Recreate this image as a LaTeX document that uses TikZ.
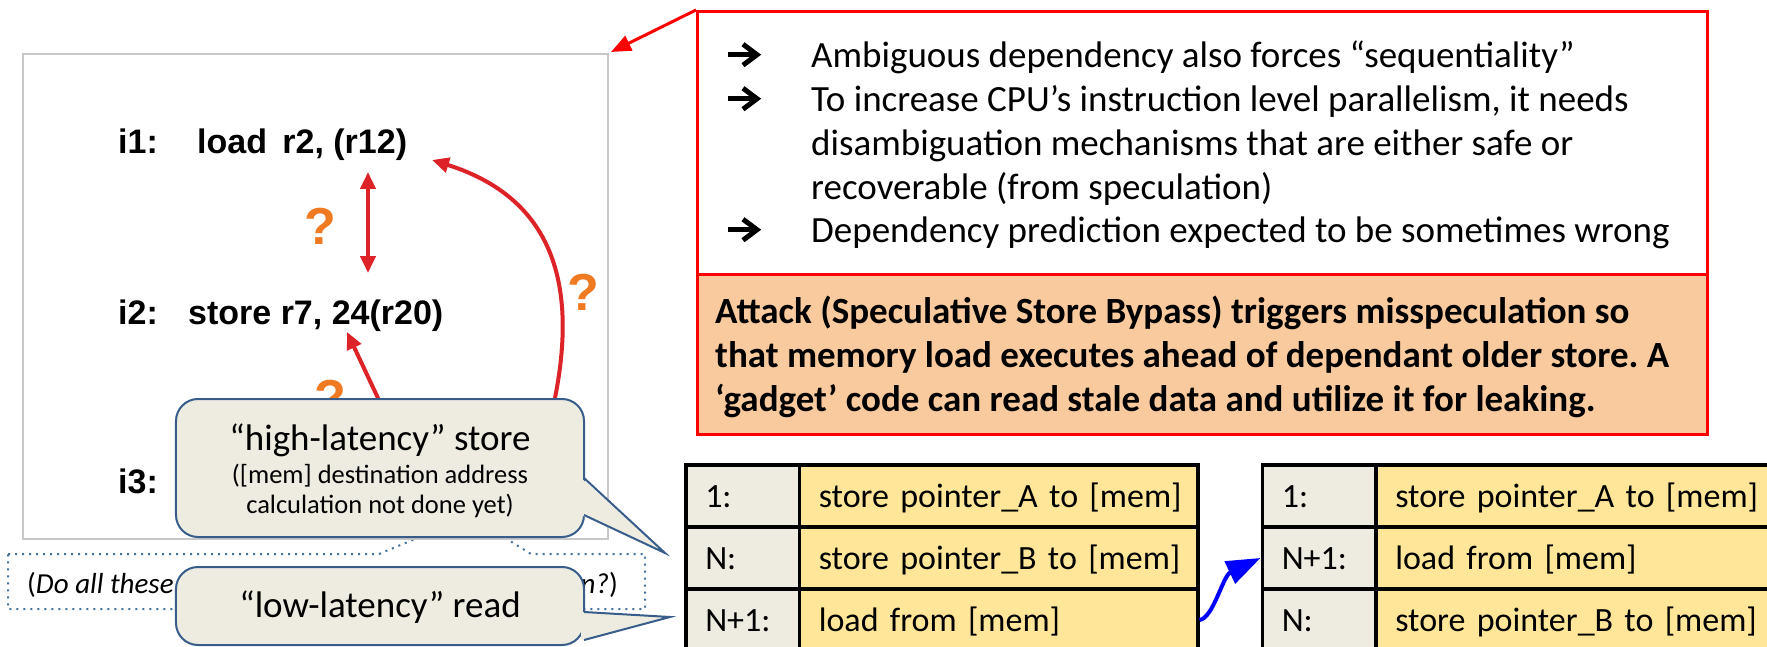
\documentclass[tikz,border=0pt]{standalone}
\usepackage{fontspec}
\setmainfont{Carlito}
\newfontfamily\arialfont{Liberation Sans}
\usetikzlibrary{arrows.meta}
\frenchspacing

\newcommand{\fsz}[2]{\fontsize{#1bp}{#2bp}\selectfont}

\definecolor{slidered}{HTML}{FF0000}
\definecolor{arrowred}{HTML}{DD2327}
\definecolor{qorange}{HTML}{F07A22}
\definecolor{attackfill}{HTML}{F8CA9E}
\definecolor{calloutfill}{HTML}{EEECE1}
\definecolor{calloutline}{HTML}{385D8A}
\definecolor{dotblue}{HTML}{41719C}
\definecolor{cellgray}{HTML}{EEECE1}
\definecolor{cellgold}{HTML}{FFE699}
\definecolor{panelline}{HTML}{C8C8C8}

\tikzset{
  codetext/.style={font=\arialfont\bfseries\fsz{34}{40}, inner sep=0pt, anchor=base west},
  qmark/.style={font=\arialfont\bfseries\fsz{52}{60}, text=qorange, inner sep=0pt, anchor=base},
  depline/.style={draw=arrowred, line width=4bp},
  callout/.style={draw=calloutline, fill=calloutfill, line width=2bp, rounded corners=22bp},
  bodytext/.style={font=\fsz{37}{44}, inner sep=0pt, anchor=base west},
  attacktext/.style={font=\bfseries\fsz{37}{44}, inner sep=0pt, anchor=base west},
  bulletarrow/.pic={
    \draw[line width=4.5bp] (0,0) -- (28,0);
    \draw[line width=5bp, line join=miter] (15,-10.5) -- (29,0) -- (15,10.5);
  },
  cell/.style={draw=black, line width=3.5bp, anchor=north west, minimum height=62.5bp,
    inner xsep=19.5bp, inner ysep=0pt, align=left, text height=25bp, text depth=2bp,
    font=\fsz{34}{40}},
  numcell/.style={cell, fill=cellgray, text width=74.5bp},
  instrcell/.style={cell, fill=cellgold, text width=359.5bp},
}

\begin{document}
\begin{tikzpicture}[x=1bp, y=-1bp]
\useasboundingbox (0,0) rectangle (1767,647);
\clip (0,0) rectangle (1767,647);
\fill[white] (0,0) rectangle (1767,647);

% dotted question callout (its pointer runs up behind the code panel)
\draw[dotblue, line width=2bp, dash pattern=on 2bp off 5bp]
  (8,554) -- (379,554) -- (470,516) -- (531,554) -- (645,554) -- (645,609) -- (8,609) -- cycle;
\node[font=\fsz{29}{34}, inner sep=0pt, anchor=base west] (qleft) at (27,593) {(\textit{Do all these}};
\node[font=\fsz{29}{34}, inner sep=0pt, anchor=base east] (qright) at (618,593) {\textit{n?})};

% code panel
\node[draw=panelline, fill=white, line width=2bp, anchor=north west,
      minimum width=585bp, minimum height=485bp, inner sep=0pt] (panel) at (22,53) {};

\node[codetext] (i1) at (118,154) {i1:};
\node[codetext] (c1) at (197,154) {load\hspace{0.45em}r2, (r12)};
\node[codetext] (i2) at (118,324) {i2:};
\node[codetext] (c2) at (188,324) {store r7, 24(r20)};
\node[codetext] (i3) at (118,493) {i3:};

\node[qmark] (q1) at (320,245) {?};
\node[qmark] (q2) at (583,310) {?};
\node[qmark] (q3) at (330,416) {?};

\coordinate (dtop) at (368,172);
\coordinate (dbot) at (368,273);
\coordinate (c2hit) at (347,332);
\coordinate (c1hit) at (432,160);
\coordinate (i3a) at (400,445);
\coordinate (i3b) at (545,440);

\draw[depline, {Triangle[length=17bp, width=15bp]}-{Triangle[length=17bp, width=15bp]}] (dtop) -- (dbot);
\draw[depline, -{Triangle[length=17bp, width=15bp]}] (i3a) -- (c2hit);
\draw[depline, -{Triangle[length=17bp, width=15bp]}] (i3b) .. controls (578,320) and (575,205) .. (c1hit);

% callout: high-latency store
\node[callout, minimum width=408bp, minimum height=138bp, inner sep=0pt] (hl) at (380,468) {};
\fill[calloutfill] (581,478) -- (665,553) -- (581,515) -- cycle;
\draw[calloutline, line width=2bp, line join=miter] (584,478) -- (665,553) -- (584,515);
\node[font=\fsz{37}{42}, inner sep=0pt, anchor=base] (hl1) at (380,450) {“high-latency” store};
\node[font=\fsz{26.5}{30}, inner sep=0pt, anchor=base] (hl2) at (380,483) {([mem] destination address};
\node[font=\fsz{26.5}{30}, inner sep=0pt, anchor=base] (hl3) at (380,513) {calculation not done yet)};

% callout: low-latency read
\node[callout, minimum width=408bp, minimum height=78bp, inner sep=0pt] (ll) at (380,606) {};
\fill[calloutfill] (581,612) -- (670,617) -- (581,640) -- cycle;
\draw[calloutline, line width=2bp, line join=miter] (584,612) -- (670,617) -- (584,640);
\node[font=\fsz{37}{42}, inner sep=0pt, anchor=base] (ll1) at (380,617) {“low-latency” read};

% explanation box
\node[draw=slidered, fill=white, line width=3bp, anchor=north west,
      minimum width=1010bp, minimum height=263bp, inner sep=0pt] (rb) at (696,10) {};
\node[draw=slidered, fill=attackfill, line width=3bp, anchor=north west,
      minimum width=1010bp, minimum height=160bp, inner sep=0pt] (ab) at (696,273) {};

\draw[slidered, line width=3bp, -{Triangle[length=20bp, width=16bp]}] (rb.north west) -- (611,52);

\pic at (728,54.7) {bulletarrow};
\pic at (728,98.7) {bulletarrow};
\pic at (728,229.7) {bulletarrow};
\node[bodytext] (b1) at (811,68) {Ambiguous dependency also forces “sequentiality”};
\node[bodytext] (b2) at (811,112) {To increase CPU’s instruction level parallelism, it needs};
\node[bodytext] (b3) at (811,156) {disambiguation mechanisms that are either safe or};
\node[bodytext] (b4) at (811,200) {recoverable (from speculation)};
\node[bodytext] (b5) at (811,243) {Dependency prediction expected to be sometimes wrong};

\node[attacktext] (a1) at (715,323) {Attack (Speculative Store Bypass) triggers misspeculation so};
\node[attacktext] (a2) at (715,367) {that memory load executes ahead of dependant older store. A};
\node[attacktext] (a3) at (715,411) {‘gadget’ code can read stale data and utilize it for leaking.};

% program order table
\node[numcell]   (l1a) at (684,463)   {1:};
\node[instrcell] (l1b) at (797.5,463) {\mbox{store pointer\_A to [mem]}};
\node[numcell]   (l2a) at (684,525)   {N:};
\node[instrcell] (l2b) at (797.5,525) {\mbox{store pointer\_B to [mem]}};
\node[numcell]   (l3a) at (684,587)   {N+1:};
\node[instrcell] (l3b) at (797.5,587) {load from [mem]};

% execution order table
\node[numcell]   (r1a) at (1260.5,463) {1:};
\node[instrcell] (r1b) at (1374,463)   {\mbox{store pointer\_A to [mem]}};
\node[numcell]   (r2a) at (1260.5,525) {N+1:};
\node[instrcell] (r2b) at (1374,525)   {load from [mem]};
\node[numcell]   (r3a) at (1260.5,587) {N:};
\node[instrcell] (r3b) at (1374,587)   {\mbox{store pointer\_B to [mem]}};

\draw[blue, line width=4bp, -{Triangle[length=34bp, width=24bp]}]
  (l3b.east) .. controls +(14,-2) and +(-38,18) .. (r2a.west);
\end{tikzpicture}
\end{document}
